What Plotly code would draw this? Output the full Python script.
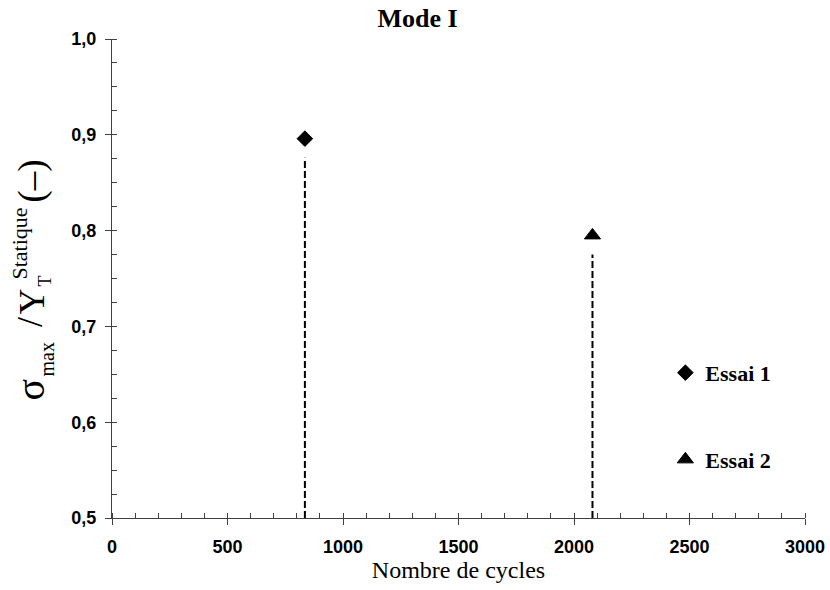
import plotly.graph_objects as go

# Data
series_names = ["Essai 1", "Essai 2"]
cycles = [835, 2080]
ratios = [0.896, 0.795]
symbols = ["diamond", "triangle-up"]
marker_sizes = [12, 14]
y_floor = 0.5
gap = 0.02

x_ticks = [0, 500, 1000, 1500, 2000, 2500, 3000]
y_ticks = [0.5, 0.6, 0.7, 0.8, 0.9, 1.0]
y_tick_labels = ["0,5", "0,6", "0,7", "0,8", "0,9", "1,0"]

fig = go.Figure()

for i, name in enumerate(series_names):
    fig.add_trace(go.Scatter(
        x=[cycles[i], cycles[i]], y=[y_floor, ratios[i] - gap],
        mode="lines", line=dict(color="black", width=2, dash="7px,3px"),
        showlegend=False, hoverinfo="skip"))

for i, name in enumerate(series_names):
    fig.add_trace(go.Scatter(
        x=[cycles[i]], y=[ratios[i]], mode="markers", name=name,
        marker=dict(symbol=symbols[i], size=marker_sizes[i], color="black",
                    line=dict(color="black", width=1)),
        legend="legend" if i == 0 else "legend2"))

# dummy trace to activate overlay axes (inner half of crossing major ticks)
fig.add_trace(go.Scatter(x=[None], y=[None], xaxis="x2", yaxis="y2",
                         showlegend=False, hoverinfo="skip"))

axis_col = "#404040"
tick_font = dict(family="Liberation Sans", size=18, color="black", weight="bold")
legend_font = dict(family="Liberation Serif", size=22, color="black", weight="bold")
serif = "Liberation Serif"

fig.update_layout(
    width=830, height=590,
    margin=dict(l=112, r=25, t=39, b=72, autoexpand=False),
    plot_bgcolor="white", paper_bgcolor="white",
    separators=", ",
    title=dict(text="<b>Mode I</b>", x=0.503, xanchor="center", xref="container",
               y=0.969, yanchor="middle", yref="container",
               font=dict(family=serif, size=26, color="black")),
    xaxis=dict(range=[0, 3000], tickvals=x_ticks, tickformat="d", automargin=False,
               showgrid=False, zeroline=False, showline=True, linecolor=axis_col, linewidth=1.2,
               ticks="outside", ticklen=6, tickcolor=axis_col, tickwidth=1.2,
               ticklabelstandoff=6,
               minor=dict(dtick=100, ticks="inside", ticklen=5, tickcolor=axis_col, tickwidth=1),
               tickfont=tick_font,
               title=dict(text="Nombre de cycles", standoff=2,
                          font=dict(family=serif, size=24, color="black"))),
    yaxis=dict(range=[0.5, 1.0], tickvals=y_ticks, ticktext=y_tick_labels, automargin=False,
               showgrid=False, zeroline=False, showline=True, linecolor=axis_col, linewidth=1.2,
               ticks="outside", ticklen=6, tickcolor=axis_col, tickwidth=1.2,
               ticklabelstandoff=5,
               minor=dict(dtick=0.025, ticks="inside", ticklen=5, tickcolor=axis_col, tickwidth=1),
               tickfont=tick_font, title=dict(text="")),
    xaxis2=dict(overlaying="x", matches="x", range=[0, 3000], tickvals=x_ticks, side="bottom",
                showticklabels=False, ticks="inside", ticklen=5, tickcolor=axis_col, tickwidth=1.2,
                showgrid=False, zeroline=False, showline=False, anchor="y", automargin=False),
    yaxis2=dict(overlaying="y", matches="y", range=[0.5, 1.0], tickvals=y_ticks, side="left",
                showticklabels=False, ticks="inside", ticklen=5, tickcolor=axis_col, tickwidth=1.2,
                showgrid=False, zeroline=False, showline=False, anchor="x", automargin=False),
    legend=dict(x=0.7985, y=0.303, xanchor="left", yanchor="middle", bgcolor="rgba(0,0,0,0)",
                font=legend_font, itemwidth=30),
    legend2=dict(x=0.7985, y=0.122, xanchor="left", yanchor="middle", bgcolor="rgba(0,0,0,0)",
                 font=legend_font, itemwidth=30),
)

# Y-axis title built from pieces (stacked sub/superscripts)
title_pieces = [
    ("σ", 40, -82.5, 128),
    ("max", 20, -66, 158.5),
    ("/", 36, -82, 196),
    ("Y", 36, -81, 216.5),
    ("T", 18, -68, 236.5),
    ("Statique", 22, -93, 274.5),
    ("(–)", 37, -81, 336.5),
]
for txt, fs, dx, dy in title_pieces:
    fig.add_annotation(text=txt, x=0, y=0, xref="paper", yref="paper",
                       xanchor="center", yanchor="middle", xshift=dx, yshift=dy,
                       textangle=-90, showarrow=False,
                       font=dict(family=serif, size=fs, color="black"))

fig.write_html(
    "out.html",
    config={"displayModeBar": False},
    post_script="document.body.style.margin='0';document.body.style.overflow='hidden';",
)
